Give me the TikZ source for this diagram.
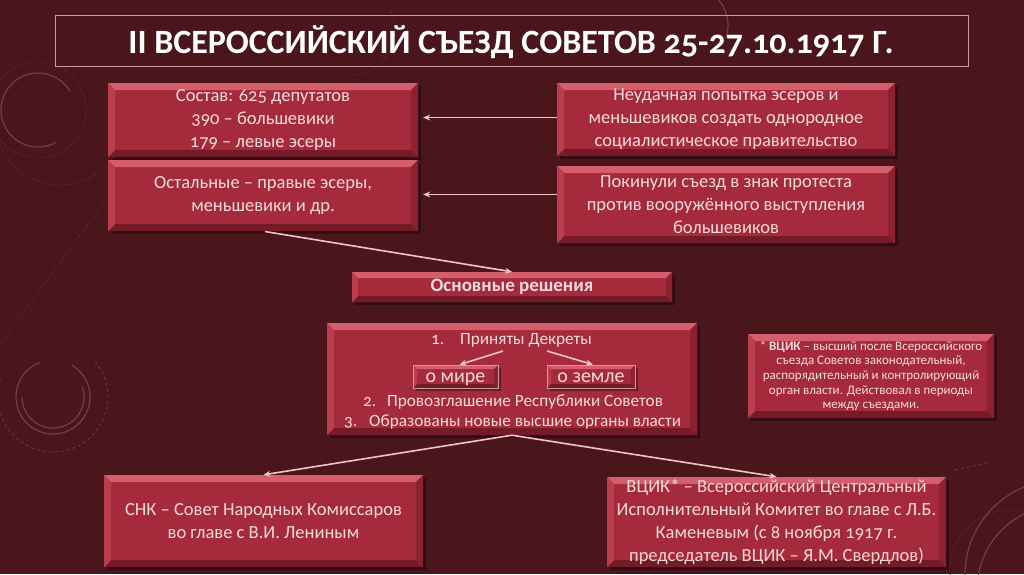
\documentclass[tikz,border=0pt]{standalone}
\usepackage{fontspec}
\setmainfont{Carlito}[Numbers=OldStyle]
\usetikzlibrary{arrows.meta}
\definecolor{bg}{HTML}{4A151B}
\definecolor{boxface}{HTML}{A52A3B}
\definecolor{bvtop}{HTML}{D45E6C}
\definecolor{bvleft}{HTML}{BA3E4E}
\definecolor{bvright}{HTML}{8C2231}
\definecolor{bvbot}{HTML}{751A27}
\definecolor{txt}{HTML}{F7DADB}
\definecolor{arrc}{HTML}{F0C4C8}
\definecolor{deco}{HTML}{7E3A43}
\definecolor{frame}{HTML}{C99AA0}
\newcommand\mybevel[1]{%
 \path (path picture bounding box.north west) coordinate (pNW)
       (path picture bounding box.north east) coordinate (pNE)
       (path picture bounding box.south west) coordinate (pSW)
       (path picture bounding box.south east) coordinate (pSE);
 \fill[bvtop] (pNW) -- (pNE) -- ([shift={(-#1pt,-#1pt)}]pNE) -- ([shift={(#1pt,-#1pt)}]pNW) -- cycle;
 \fill[bvbot] (pSW) -- (pSE) -- ([shift={(-#1pt,#1pt)}]pSE) -- ([shift={(#1pt,#1pt)}]pSW) -- cycle;
 \fill[bvleft] (pNW) -- ([shift={(#1pt,-#1pt)}]pNW) -- ([shift={(#1pt,#1pt)}]pSW) -- (pSW) -- cycle;
 \fill[bvright] (pNE) -- ([shift={(-#1pt,-#1pt)}]pNE) -- ([shift={(-#1pt,#1pt)}]pSE) -- (pSE) -- cycle;
}
\tikzset{
 bx/.style={rectangle, fill=boxface, text=txt, align=center, inner sep=0pt,
   preaction={fill=black, opacity=0.35, transform canvas={xshift=3pt,yshift=-3pt}},
   path picture={\mybevel{#1}}},
 bx/.default=7,
 arr/.style={draw=arrc, line width=1.6pt, -{Stealth[length=7pt,width=6pt]}},
 body/.style={font=\fontsize{18.5}{23}\selectfont},
 dtext/.style={text=txt, inner sep=0pt, font=\fontsize{17.2}{20}\selectfont},
 decree/.style={bx=4, draw=frame, line width=0.8pt, font=\fontsize{20}{22}\selectfont,
   text height=13pt, text depth=2pt, minimum height=23},
 notefont/.style={font=\fontsize{13}{14.6}\selectfont},
 decoline/.style={draw=deco, line width=1.2pt},
 decothin/.style={draw=deco, line width=0.7pt, dotted},
}
\begin{document}
\begin{tikzpicture}[x=1pt,y=-1pt]
\useasboundingbox (0,0) rectangle (1024,574);
\fill[bg] (0,0) rectangle (1024,574);
% background decoration
\draw[decoline] (38,110) ++(60:37) arc[start angle=60,end angle=330,radius=37];
\draw[decothin] (38,110) circle[radius=48];
\draw[decothin] (60,120) ++(200:65) arc[start angle=200,end angle=20,radius=65];
\draw[decoline] (45,55) ++(-30:190) arc[start angle=-30,end angle=-150,radius=190];
\draw[decoline] (45,55) ++(-60:150) arc[start angle=-60,end angle=-30,radius=150];
\draw[decothin] (0,345) -- (120,180);
\draw[decoline] (53,397) ++(-60:37) arc[start angle=-60,end angle=250,radius=37];
\draw[decoline] (53,397) ++(-20:31) arc[start angle=-20,end angle=180,radius=31];
\draw[decothin, dashed] (53,397) ++(-40:55) arc[start angle=-40,end angle=200,radius=55];
\draw[decoline] (1060,575) ++(-100:95) arc[start angle=-100,end angle=-185,radius=95];
\draw[decoline] (1062,590) ++(-95:85) arc[start angle=-95,end angle=-170,radius=85];
\draw[decothin, dashed] (955,470) -- (990,462);
\draw[decothin] (1010,570) circle[radius=60];
\draw[decothin] (350,30) ++(-30:45) arc[start angle=-30,end angle=90,radius=45];
\draw[decoline] (690,25) ++(-90:38) arc[start angle=-90,end angle=20,radius=38];
% title
\draw[frame, line width=0.9pt] (55,15) rectangle (968,66);
\node[text=white, font=\fontsize{34}{36}\selectfont\bfseries] (title) at (511,42)
  {II ВСЕРОССИЙСКИЙ СЪЕЗД СОВЕТОВ 25-27.10.1917 Г.};
% boxes
\node[bx, body, minimum width=310, minimum height=74] (L1) at (263,120)
  {Состав: 625 депутатов\\390 – большевики\\179 – левые эсеры};
\node[bx, body, minimum width=310, minimum height=71] (L2) at (263,195.5)
  {Остальные – правые эсеры,\\меньшевики и др.};
\node[bx, body, minimum width=338, minimum height=73] (R1) at (726,119.5)
  {Неудачная попытка эсеров и\\меньшевиков создать однородное\\социалистическое правительство};
\node[bx, body, minimum width=338, minimum height=77] (R2) at (726,204.5)
  {Покинули съезд в знак протеста\\против вооружённого выступления\\большевиков};
\node[bx=6, font=\fontsize{19}{22}\selectfont\bfseries, minimum width=320, minimum height=30] (main) at (512,287)
  {Основные решения};
\node[bx, minimum width=370, minimum height=112] (dec) at (512,379) {};
\node[dtext, anchor=west] (d1) at (431,340) {\makebox[29pt][l]{1.}Приняты Декреты};
\node[decree, minimum width=85] (mir) at (455.5,376.5) {о мире};
\node[decree, minimum width=88] (zem) at (591,376.5) {о земле};
\node[dtext, anchor=west] (d2) at (363,402) {\makebox[24pt][l]{2.}Провозглашение Республики Советов};
\node[dtext, anchor=west] (d3) at (344,422) {\makebox[25pt][l]{3.}Образованы новые высшие органы власти};
\node[bx, notefont, minimum width=246, minimum height=84] (note) at (871,376)
  {* \textbf{ВЦИК} – высший после Всероссийского\\съезда Советов законодательный,\\распорядительный и контролирующий\\орган власти. Действовал в периоды\\между съездами.};
\node[bx, body, minimum width=319, minimum height=92] (snk) at (263.5,521)
  {СНК – Совет Народных Комиссаров\\во главе с В.И. Лениным};
\node[bx, body, minimum width=339, minimum height=90] (vcik) at (776.5,522)
  {ВЦИК* – Всероссийский Центральный\\Исполнительный Комитет во главе с Л.Б.\\Каменевым (с 8 ноября 1917 г.\\председатель ВЦИК – Я.М. Свердлов)};
% connectors
\coordinate (d1a) at (503,351);
\coordinate (d1b) at (547,351);
\draw[arr, shorten >=5pt] ([yshift=2pt]R1.west) -- ([yshift=2pt]R1.west -| L1.east);
\draw[arr, shorten >=5pt] ([yshift=10pt]R2.west) -- ([yshift=10pt]R2.west -| L2.east);
\draw[arr, shorten <=2pt] (L2.south) -- (main.north);
\draw[arr] (d1a) -- ([xshift=4pt]mir.north);
\draw[arr] (d1b) -- ([xshift=2pt]zem.north);
\draw[arr] (dec.south) -- (snk.north);
\draw[arr] (dec.south) -- (vcik.north);
\end{tikzpicture}
\end{document}
